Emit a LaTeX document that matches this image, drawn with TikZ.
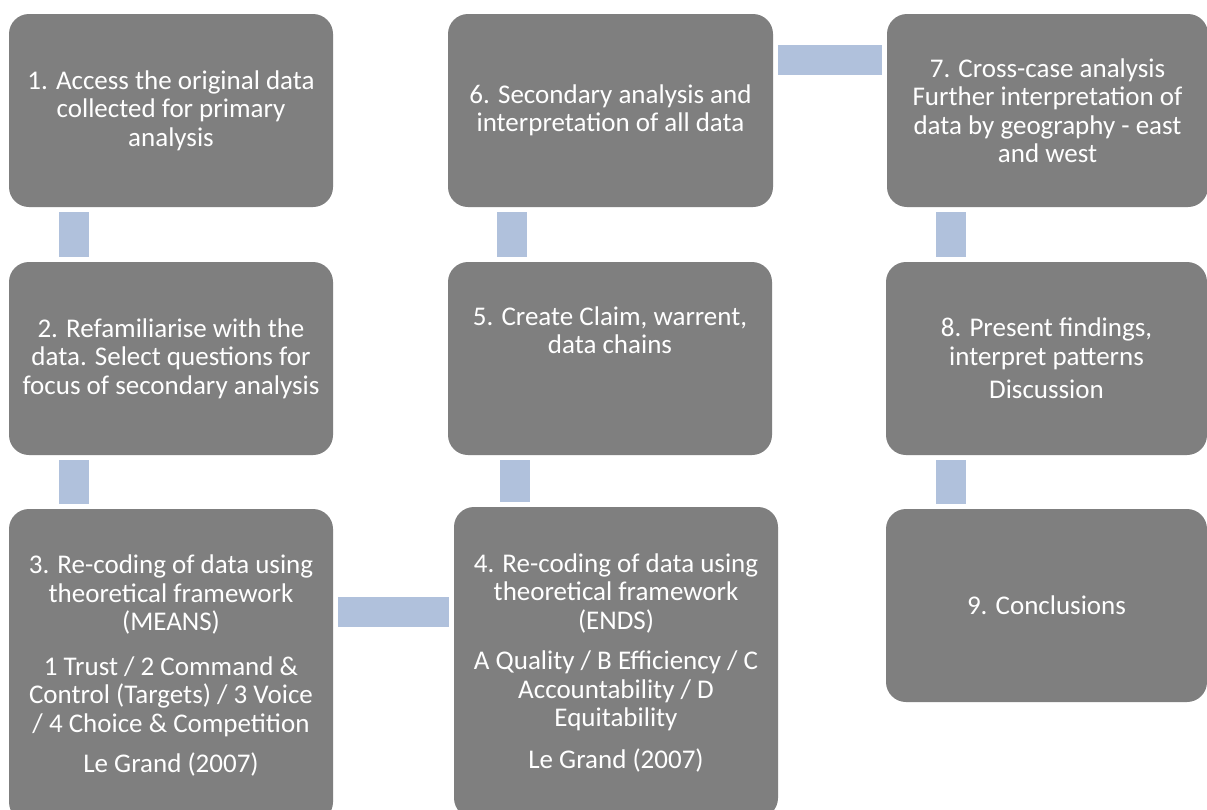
\documentclass[tikz,border=0pt]{standalone}
\usepackage{fontspec}
\setmainfont{Carlito}
\definecolor{boxgray}{RGB}{127,127,127}
\definecolor{barblue}{RGB}{176,193,220}
\tikzset{
  stage/.style={rectangle, rounded corners=20pt, fill=boxgray, draw=none,
    text=white, inner sep=0pt, minimum width=324pt, minimum height=193pt,
    align=center, font=\fontsize{27}{28.5}\selectfont},
  bar/.style={draw=barblue, line width=30pt, line cap=butt,
    shorten >=5pt, shorten <=5pt},
}
\begin{document}
\begin{tikzpicture}[x=1pt,y=-1pt]
\clip (0,0) rectangle (1207,809);
\fill[white] (0,0) rectangle (1207,809);

% column 1
\node[stage] (s1) at (171,110.5) {1. Access the original data\\collected for primary\\analysis};
\node[stage] (s2) at (171,358.5) {2. Refamiliarise with the\\data. Select questions for\\focus of secondary analysis};
\node[stage, minimum height=313pt] (s3) at (171,665.5) {3. Re-coding of data using\\theoretical framework\\(MEANS)\\[16pt]1 Trust / 2 Command \&\\Control (Targets) / 3 Voice\\/ 4 Choice \& Competition\\[12pt]Le Grand (2007)};

% column 2
\node[stage, minimum height=311pt] (s4) at (616,662.5) {4. Re-coding of data using\\theoretical framework\\(ENDS)\\[12pt]A Quality / B Efficiency / C\\Accountability / D\\Equitability\\[13pt]Le Grand (2007)};
\node[stage] (s5) at (610,358.5) {5. Create Claim, warrent,\\data chains\\~\\~};
\node[stage, minimum width=325pt] (s6) at (610.5,110.5) {6. Secondary analysis and\\interpretation of all data};

% column 3
\node[stage, minimum width=321pt] (s7) at (1047.5,110.5) {7. Cross-case analysis\\Further interpretation of\\data by geography - east\\and west};
\node[stage, minimum width=321pt] (s8) at (1046.5,358.5) {8. Present findings,\\interpret patterns\\[5pt]Discussion};
\node[stage, minimum width=321pt] (s9) at (1046.5,605.5) {9. Conclusions};

% connecting bars
\draw[bar] ([xshift=65pt]s1.south west) -- ([xshift=65pt]s2.north west);
\draw[bar] ([xshift=65pt]s2.south west) -- ([xshift=65pt]s3.north west);
\path ([yshift=-103pt]s3.north east) coordinate (c34);
\draw[bar] (c34) -- (c34 -| s4.west);
\path ([xshift=67.5pt]s5.south west) coordinate (c54);
\draw[bar] (c54) -- (c54 |- s4.north);
\draw[bar] ([xshift=64pt]s6.south west) -- ([xshift=64pt]s5.north west);
\path ([yshift=-46pt]s6.north east) coordinate (c67);
\draw[bar] (c67) -- (c67 -| s7.west);
\draw[bar] ([xshift=64pt]s7.south west) -- ([xshift=64pt]s7.south west |- s8.north);
\draw[bar] ([xshift=65pt]s8.south west) -- ([xshift=65pt]s9.north west);
\end{tikzpicture}
\end{document}
